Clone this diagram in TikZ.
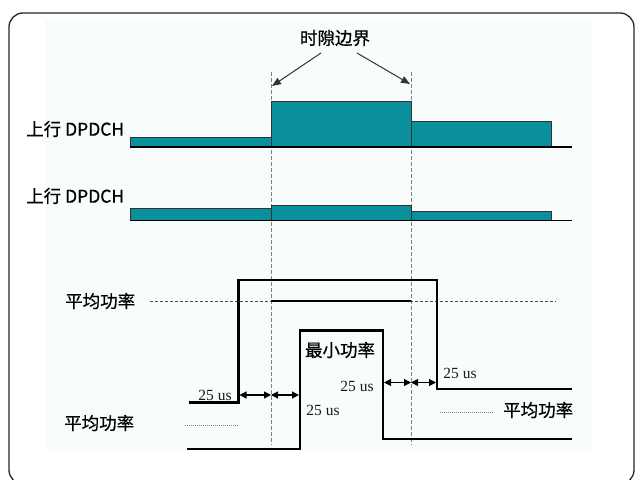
\documentclass[tikz,border=0pt]{standalone}
\usepackage{fontspec}
\setmainfont{Liberation Serif}
\newfontfamily\cjk[FakeBold=0.6]{Noto Sans CJK SC}
\usetikzlibrary{arrows.meta}
\definecolor{teal1}{HTML}{0A8F9C}
\definecolor{bgpale}{HTML}{F8FCFD}
\tikzset{
  chbox/.style={draw=black!80, line width=0.6pt, fill=teal1},
  base/.style={line width=1.2pt, black},
  thick/.style={line width=2.6pt, black, line join=miter},
  vdash/.style={gray, line width=0.5pt, dash pattern=on 4pt off 2pt},
  lbl/.style={font=\cjk\fontsize{17.5}{19}\selectfont, inner sep=0pt},
  us/.style={font=\fontsize{15.5}{16}\selectfont, inner sep=0pt, text=black!90},
  darr/.style={line width=1.1pt, {Triangle[length=7pt,width=7pt]}-{Triangle[length=7pt,width=7pt]}},
  dotl/.style={gray, line width=0.8pt, dash pattern=on 1pt off 1pt},
  hdash/.style={black!70, line width=0.7pt, dash pattern=on 3pt off 2pt}
}
\begin{document}
\begin{tikzpicture}[x=1pt,y=-1pt]
\useasboundingbox (0,0) rectangle (636,479);
\fill[white] (0,0) rectangle (636,479);
\fill[bgpale] (45,20) rectangle (592,450);
\draw[rounded corners=14pt, line width=1.3pt, black!85] (9,13) rectangle (634,484);

% vertical slot boundaries
\coordinate (v1t) at (271,72); \coordinate (v1b) at (271,445);
\coordinate (v2t) at (411,72); \coordinate (v2b) at (411,445);
\draw[vdash] (v1t) -- (v1b);
\draw[vdash] (v2t) -- (v2b);

% title and arrows
\node[lbl] (title) at (335,38) {时隙边界};
\coordinate (a1s) at (321,53); \coordinate (a1e) at (272,86);
\coordinate (a2s) at (357,53); \coordinate (a2e) at (410,84);
\draw[line width=1pt, black!80, -{Triangle[length=9pt,width=7pt]}] (a1s) -- (a1e);
\draw[line width=1pt, black!80, -{Triangle[length=9pt,width=7pt]}] (a2s) -- (a2e);

% first DPDCH row
\node[lbl, anchor=west] (l1) at (26,129) {上行 DPDCH};
\draw[chbox] (130,137) rectangle (271,147);
\draw[chbox] (271,101) rectangle (411,147);
\draw[chbox] (411,121) rectangle (551,147);
\coordinate (b1s) at (130,147); \coordinate (b1e) at (572,147);
\draw[base] (b1s) -- (b1e);

% second DPDCH row
\node[lbl, anchor=west] (l2) at (26,196) {上行 DPDCH};
\draw[chbox] (130,208) rectangle (271,220.5);
\draw[chbox] (271,205.5) rectangle (411,220.5);
\draw[chbox] (411,211) rectangle (551,220.5);
\coordinate (b2s) at (130,220.5); \coordinate (b2e) at (572,220.5);
\draw[base] (b2s) -- (b2e);

% average power line
\node[lbl, anchor=west] (avg1) at (65,301) {平均功率};
\coordinate (h1s) at (150,301.5); \coordinate (h1e) at (556,301.5);
\draw[hdash] (h1s) -- (h1e);
\draw[line width=1.6pt] (271,301) -- (411,301);

% outer (average) power curve
\draw[thick] (189,402.5) -- (238.5,402.5) -- (238.5,280) -- (437,280) -- (437,389) -- (572,389);
% inner (minimum) power curve
\draw[thick] (187,449) -- (300,449) -- (300,330.5) -- (383,330.5) -- (383,439) -- (572,439);

\node[lbl] (minp) at (340,350) {最小功率};

% 25 us labels
\node[us] (u1) at (215,395) {25 us};
\node[us] (u2) at (323,410) {25 us};
\node[us] (u3) at (357,386) {25 us};
\node[us] (u4) at (460,373) {25 us};

% double arrows
\coordinate (d1) at (239.5,395); \coordinate (d2) at (271,395); \coordinate (d3) at (299,395);
\draw[darr] (d1) -- (d2);
\draw[darr] (d2) -- (d3);
\coordinate (e1) at (384,382.5); \coordinate (e2) at (411,382.5); \coordinate (e3) at (436,382.5);
\draw[darr] (e1) -- (e2);
\draw[darr] (e2) -- (e3);

% dotted legend lines and labels
\node[lbl, anchor=west] (avg2) at (64,423) {平均功率};
\coordinate (o1s) at (185,425); \coordinate (o1e) at (239,425);
\draw[dotl] (o1s) -- (o1e);
\node[lbl, anchor=west] (avg3) at (503,410) {平均功率};
\coordinate (o2s) at (440,412); \coordinate (o2e) at (493,412);
\draw[dotl] (o2s) -- (o2e);
\end{tikzpicture}
\end{document}
